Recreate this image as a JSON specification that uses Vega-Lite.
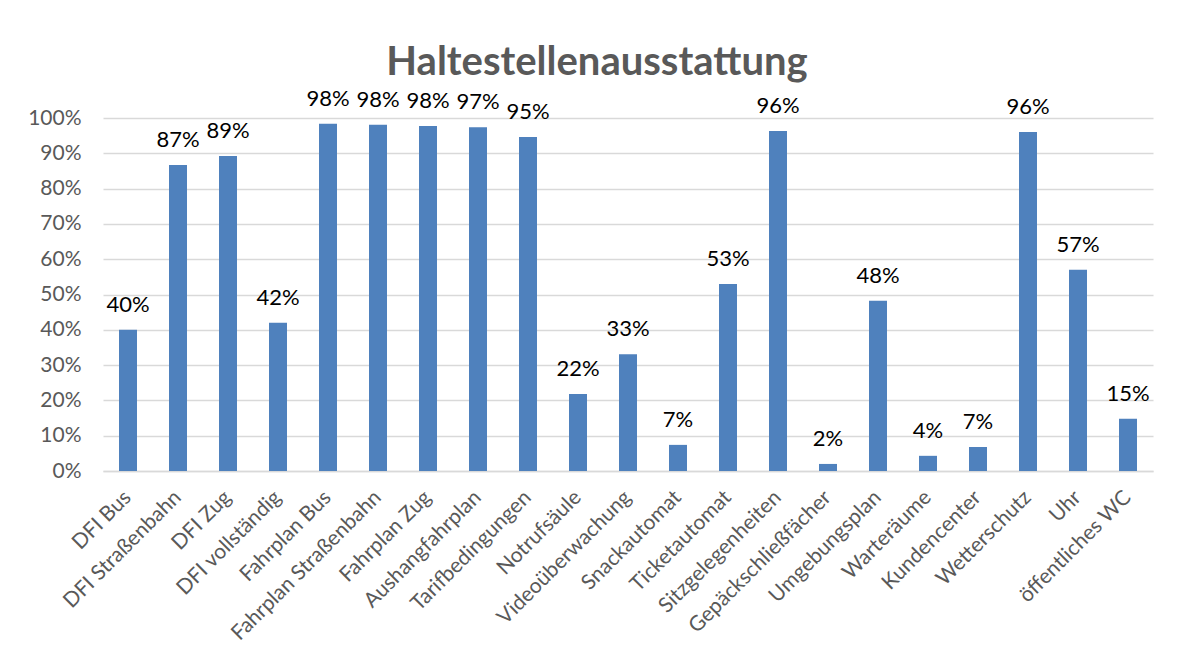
{
  "$schema": "https://vega.github.io/schema/vega-lite/v6.json",
  "autosize": {"type": "none"},
  "width": 1050,
  "height": 353,
  "padding": {"left": 103, "top": 118, "right": 28, "bottom": 199},
  "background": "white",
  "title": {
    "text": "Haltestellenausstattung",
    "font": "Lato",
    "fontSize": 40,
    "fontWeight": "bold",
    "color": "#595959",
    "anchor": "middle",
    "dx": -31,
    "offset": 5
  },
  "data": {
    "values": [
      {"item": "DFI Bus", "value": 0.40},
      {"item": "DFI Straßenbahn", "value": 0.867},
      {"item": "DFI Zug", "value": 0.892},
      {"item": "DFI vollständig", "value": 0.42},
      {"item": "Fahrplan Bus", "value": 0.984},
      {"item": "Fahrplan Straßenbahn", "value": 0.981},
      {"item": "Fahrplan Zug", "value": 0.977},
      {"item": "Aushangfahrplan", "value": 0.974},
      {"item": "Tarifbedingungen", "value": 0.946},
      {"item": "Notrufsäule", "value": 0.218},
      {"item": "Videoüberwachung", "value": 0.331},
      {"item": "Snackautomat", "value": 0.074},
      {"item": "Ticketautomat", "value": 0.530},
      {"item": "Sitzgelegenheiten", "value": 0.963},
      {"item": "Gepäckschließfächer", "value": 0.020},
      {"item": "Umgebungsplan", "value": 0.482},
      {"item": "Warteräume", "value": 0.043},
      {"item": "Kundencenter", "value": 0.068},
      {"item": "Wetterschutz", "value": 0.960},
      {"item": "Uhr", "value": 0.570},
      {"item": "öffentliches WC", "value": 0.148}
    ]
  },
  "encoding": {
    "x": {
      "field": "item",
      "type": "nominal",
      "sort": null,
      "scale": {"paddingInner": 0.64, "paddingOuter": 0.32},
      "axis": {
        "title": null,
        "labelAngle": -45,
        "labelAlign": "right",
        "labelBaseline": "middle",
        "labelFont": "Lato",
        "labelFontSize": 21,
        "labelColor": "#595959",
        "labelPadding": 23,
        "labelOverlap": false,
        "ticks": false,
        "domainColor": "#D9D9D9",
        "domainWidth": 1.5,
        "labelLimit": 400
      }
    },
    "y": {
      "field": "value",
      "type": "quantitative",
      "scale": {"domain": [0, 1]},
      "axis": {
        "title": null,
        "format": ".0%",
        "values": [0, 0.1, 0.2, 0.3, 0.4, 0.5, 0.6, 0.7, 0.8, 0.9, 1.0],
        "labelOverlap": false,
        "labelFont": "Lato",
        "labelFontSize": 21,
        "labelColor": "#595959",
        "labelPadding": 22,
        "ticks": false,
        "domain": false,
        "gridColor": "#D9D9D9",
        "gridWidth": 1.5
      }
    }
  },
  "layer": [
    {"mark": {"type": "bar", "color": "#4F81BD"}},
    {
      "mark": {
        "type": "text",
        "font": "Lato",
        "fontSize": 22,
        "color": "#000000",
        "baseline": "middle",
        "dy": -25
      },
      "encoding": {"text": {"field": "value", "type": "quantitative", "format": ".0%"}}
    }
  ],
  "config": {"view": {"stroke": null}}
}
